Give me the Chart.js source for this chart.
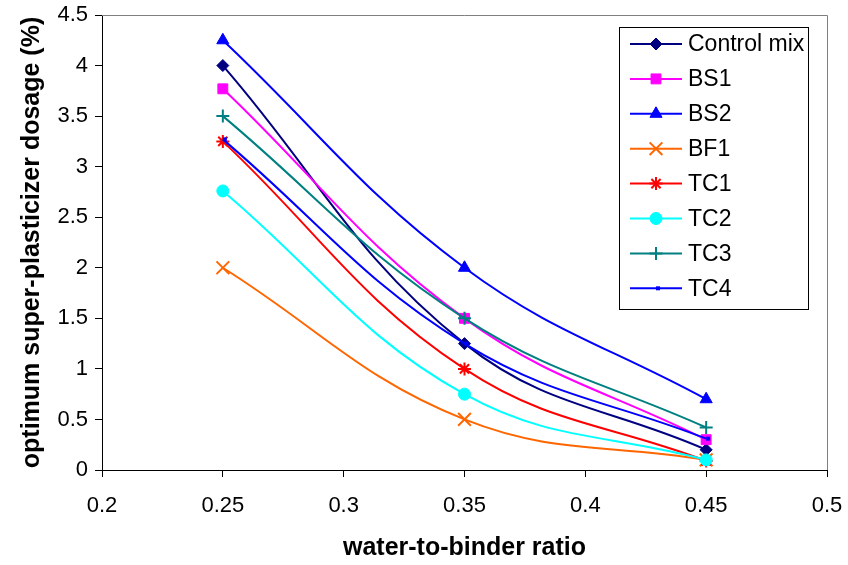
<!DOCTYPE html>
<html>
<head>
<meta charset="utf-8">
<title>Optimum super-plasticizer dosage</title>
<script src="https://cdn.jsdelivr.net/npm/chart.js@4"></script>
<style>
  html, body { margin: 0; padding: 0; background: #fff; }
  #wrap { width: 848px; height: 565px; position: relative; }
</style>
</head>
<body>
<div id="wrap"><canvas id="c"></canvas></div>
<script>
// water-to-binder ratios
const ratios = [0.25, 0.35, 0.45];

const controlMix = [4.0, 1.25, 0.2];
const bs1 = [3.77, 1.5, 0.3];
const bs2 = [4.25, 2.0, 0.7];
const bf1 = [2.0, 0.5, 0.1];
const tc1 = [3.25, 1.0, 0.09];
const tc2 = [2.76, 0.75, 0.1];
const tc3 = [3.5, 1.5, 0.42];
const tc4 = [3.27, 1.25, 0.31];

const seriesNames = ['Control mix', 'BS1', 'BS2', 'BF1', 'TC1', 'TC2', 'TC3', 'TC4'];

const xTicks = [0.2, 0.25, 0.3, 0.35, 0.4, 0.45, 0.5];
const yTicks = [0, 0.5, 1, 1.5, 2, 2.5, 3, 3.5, 4, 4.5];

const FONT = "'Liberation Sans', Arial, sans-serif";

// marker look for each series
const looks = [
  { color: '#000080', style: 'rectRot', r: 6, bw: 1 },
  { color: '#ff00ff', style: 'rect', r: 7, bw: 1 },
  { color: '#0000ff', style: 'triangle', r: 7, bw: 1 },
  { color: '#ff6600', style: 'crossRot', r: 9, bw: 2 },
  { color: '#ff0000', style: 'star', r: 6.5, bw: 2 },
  { color: '#00ffff', style: 'circle', r: 6, bw: 1 },
  { color: '#008080', style: 'cross', r: 6.5, bw: 2 },
  { color: '#0000ff', style: 'dash', r: 4, bw: 4 }
];

const allValues = [controlMix, bs1, bs2, bf1, tc1, tc2, tc3, tc4];

function toPoints(vals) {
  return ratios.map((x, i) => ({ x: x, y: vals[i] }));
}

const datasets = allValues.map((vals, i) => ({
  label: seriesNames[i],
  data: toPoints(vals),
  borderColor: looks[i].color,
  backgroundColor: looks[i].color,
  borderWidth: 2,
  tension: 0.4,
  pointStyle: looks[i].style,
  pointRadius: looks[i].r,
  pointBorderWidth: looks[i].bw,
  pointBackgroundColor: looks[i].color,
  pointBorderColor: looks[i].color,
  order: -i
}));

// gray top/right frame of the plot area
const frame = {
  id: 'frame',
  beforeDatasetsDraw(chart) {
    const a = chart.chartArea, ctx = chart.ctx;
    ctx.save();
    ctx.strokeStyle = '#808080';
    ctx.lineWidth = 1;
    ctx.beginPath();
    ctx.moveTo(a.left, a.top + 0.5);
    ctx.lineTo(a.right + 0.5, a.top + 0.5);
    ctx.lineTo(a.right + 0.5, a.bottom);
    ctx.stroke();
    ctx.restore();
  }
};

// boxed legend sitting inside the plot, like the Excel one
const boxLegend = {
  id: 'boxLegend',
  afterDraw(chart) {
    const ctx = chart.ctx;
    const left = 619, top = 27, right = 808, bottom = 309;
    ctx.save();
    ctx.fillStyle = '#fff';
    ctx.fillRect(left, top, right - left, bottom - top);
    ctx.strokeStyle = '#000';
    ctx.lineWidth = 1;
    ctx.strokeRect(left + 0.5, top + 0.5, right - left, bottom - top);
    seriesNames.forEach((name, i) => {
      const y = 44 + i * 34.9;
      const lk = looks[i];
      ctx.strokeStyle = lk.color;
      ctx.lineWidth = 2;
      ctx.beginPath();
      ctx.moveTo(630, y);
      ctx.lineTo(682, y);
      ctx.stroke();
      ctx.fillStyle = lk.color;
      ctx.strokeStyle = lk.color;
      ctx.lineWidth = lk.bw;
      Chart.helpers.drawPoint(ctx, { pointStyle: lk.style, radius: lk.r, rotation: 0, borderWidth: lk.bw }, 656, y);
      ctx.fillStyle = '#000';
      ctx.font = '23px ' + FONT;
      ctx.textBaseline = 'middle';
      ctx.textAlign = 'left';
      ctx.fillText(name, 688, y + 1);
    });
    ctx.restore();
  }
};

new Chart(document.getElementById('c'), {
  type: 'line',
  data: { datasets: datasets },
  plugins: [frame, boxLegend],
  options: {
    responsive: true,
    maintainAspectRatio: false,
    animation: false,
    layout: { padding: { top: 15, right: 21, left: 0, bottom: 0 } },
    plugins: { legend: { display: false }, tooltip: { enabled: false } },
    scales: {
      x: {
        type: 'linear',
        min: 0.2,
        max: 0.5,
        afterBuildTicks: s => { s.ticks = xTicks.map(v => ({ value: v })); },
        afterFit: s => { s.height = 95; s.paddingLeft = 0; s.paddingRight = 0; },
        ticks: {
          color: '#000',
          font: { family: FONT, size: 22 },
          padding: 16,
          maxRotation: 0,
          callback: v => String(v)
        },
        grid: { drawOnChartArea: false, drawTicks: true, tickLength: 7, color: '#000' },
        border: { color: '#000', width: 1 },
        title: {
          display: true,
          text: 'water-to-binder ratio',
          color: '#000',
          font: { family: FONT, size: 25, weight: 'bold' },
          padding: { top: 0, bottom: 2 }
        }
      },
      y: {
        type: 'linear',
        min: 0,
        max: 4.5,
        afterBuildTicks: s => { s.ticks = yTicks.map(v => ({ value: v })); },
        afterFit: s => { s.width = 102; s.paddingTop = 0; s.paddingBottom = 0; },
        ticks: {
          color: '#000',
          font: { family: FONT, size: 22 },
          padding: 7,
          callback: v => String(v)
        },
        grid: { drawOnChartArea: false, drawTicks: true, tickLength: 7, color: '#000' },
        border: { color: '#000', width: 1 },
        title: {
          display: true,
          text: 'optimum super-plasticizer dosage (%)',
          color: '#000',
          font: { family: FONT, size: 25, weight: 'bold' },
          padding: { top: 17, bottom: 0 }
        }
      }
    }
  }
});
</script>
</body>
</html>
